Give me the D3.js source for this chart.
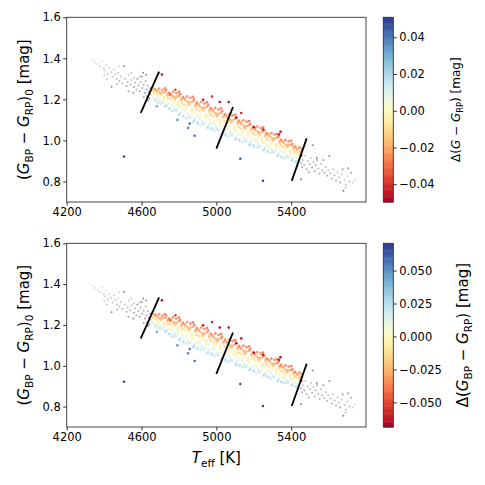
<!DOCTYPE html>
<html lang="en">
<head>
<meta charset="utf-8">
<title>Colour residuals</title>
<script src="https://cdnjs.cloudflare.com/ajax/libs/d3/7.8.5/d3.min.js"></script>
<style>
  body { margin: 0; background: #fff; }
  svg { font-family: "DejaVu Sans", sans-serif; }
</style>
</head>
<body>
<div id="chart"></div>
<script>
// axis ranges and ticks
const teffDomain = [4200, 5800];
const colourDomain = [0.7, 1.6];
const teffTicks = [4200, 4600, 5000, 5400];
const colourTicks = [0.8, 1.0, 1.2, 1.4, 1.6];
const cbarExtentG = [-0.0497, 0.0509];
const cbarExtentBP = [-0.0687, 0.0707];
const cbarTicksG = [-0.04, -0.02, 0.00, 0.02, 0.04];
const cbarTicksBP = [-0.05, -0.025, 0.0, 0.025, 0.05];

// stars inside the selected range (one line = one slice in Teff)
const bandTeff = [
  4657,4671,4663,4675,4654,4668,4660,4673,
  4694,4681,4701,4686,4697,4678,4699,4689,
  4725,4712,4705,4720,4716,4723,4707,4727,
  4732,4746,4738,4750,4729,4743,4735,4748,
  4769,4756,4776,4761,4772,4753,4774,4764,
  4800,4787,4780,4795,4791,4798,4782,4802,
  4807,4821,4813,4825,4804,4818,4810,4823,
  4844,4831,4851,4836,4847,4828,4849,4839,
  4875,4862,4855,4870,4866,4873,4857,4877,
  4882,4896,4888,4900,4879,4893,4885,4898,
  4919,4906,4926,4911,4922,4903,4924,4914,
  4950,4937,4930,4945,4941,4948,4932,4952,
  4957,4971,4963,4975,4954,4968,4960,4973,
  4994,4981,5001,4986,4997,4978,4999,4989,
  5025,5012,5005,5020,5016,5023,5007,5027,
  5032,5046,5038,5050,5029,5043,5035,5048,
  5069,5056,5076,5061,5072,5053,5074,5064,
  5100,5087,5080,5095,5091,5098,5082,5102,
  5107,5121,5113,5125,5104,5118,5110,5123,
  5144,5131,5151,5136,5147,5128,5149,5139,
  5175,5162,5155,5170,5166,5173,5157,5177,
  5182,5196,5188,5200,5179,5193,5185,5198,
  5219,5206,5226,5211,5222,5203,5224,5214,
  5250,5237,5230,5245,5241,5248,5232,5252,
  5257,5271,5263,5275,5254,5268,5260,5273,
  5294,5281,5301,5286,5297,5278,5299,5289,
  5325,5312,5305,5320,5316,5323,5307,5327,
  5332,5346,5338,5350,5329,5343,5335,5348,
  5369,5356,5376,5361,5372,5353,5374,5364,
  5400,5387,5380,5395,5391,5398,5382,5402,
  5407,5421,5413,5425,5404,5418,5410,5423,
  5444,5431,5451,5436,5447,5428,5437,5432
];
const bandColour = [
  1.260,1.249,1.242,1.232,1.225,1.216,1.209,1.197,
  1.252,1.245,1.231,1.225,1.216,1.206,1.193,1.184,
  1.253,1.234,1.228,1.213,1.203,1.196,1.180,1.167,
  1.245,1.229,1.219,1.205,1.194,1.182,1.172,1.154,
  1.237,1.227,1.208,1.200,1.187,1.174,1.156,1.143,
  1.236,1.212,1.204,1.185,1.172,1.164,1.142,1.126,
  1.225,1.206,1.194,1.177,1.164,1.149,1.137,1.116,
  1.214,1.203,1.181,1.172,1.158,1.142,1.123,1.108,
  1.212,1.186,1.177,1.156,1.142,1.133,1.110,1.092,
  1.200,1.179,1.167,1.149,1.135,1.119,1.106,1.083,
  1.187,1.176,1.153,1.144,1.129,1.113,1.092,1.077,
  1.185,1.158,1.149,1.127,1.113,1.104,1.080,1.062,
  1.173,1.152,1.139,1.121,1.107,1.090,1.077,1.055,
  1.158,1.147,1.124,1.115,1.100,1.084,1.063,1.048,
  1.156,1.129,1.120,1.098,1.084,1.075,1.051,1.033,
  1.143,1.122,1.110,1.092,1.078,1.062,1.049,1.026,
  1.128,1.117,1.095,1.085,1.071,1.055,1.035,1.020,
  1.125,1.099,1.090,1.069,1.055,1.046,1.023,1.005,
  1.112,1.092,1.080,1.062,1.049,1.033,1.021,0.999,
  1.098,1.087,1.065,1.056,1.042,1.026,1.007,0.992,
  1.094,1.069,1.061,1.040,1.026,1.018,0.995,0.978,
  1.081,1.062,1.050,1.033,1.020,1.005,0.993,0.972,
  1.067,1.057,1.036,1.027,1.013,0.998,0.979,0.965,
  1.064,1.039,1.032,1.012,0.999,0.990,0.969,0.952,
  1.050,1.032,1.020,1.004,0.991,0.977,0.965,0.945,
  1.035,1.026,1.006,0.997,0.984,0.970,0.952,0.939,
  1.032,1.009,1.002,0.982,0.970,0.962,0.942,0.926,
  1.018,1.000,0.990,0.974,0.963,0.949,0.938,0.919,
  1.002,0.993,0.975,0.967,0.955,0.942,0.926,0.914,
  0.998,0.977,0.970,0.953,0.942,0.935,0.917,0.903,
  0.982,0.967,0.958,0.945,0.934,0.923,0.913,0.897,
  0.967,0.959,0.944,0.938,0.928,0.917,0.903,0.893
];
const bandDeltaG = [
  -0.026,-0.021,-0.014,-0.007,-0.001,0.006,0.012,0.018,
  -0.028,-0.023,-0.013,-0.009,-0.003,0.005,0.013,0.019,
  -0.031,-0.020,-0.017,-0.006,0.001,0.005,0.014,0.021,
  -0.029,-0.024,-0.016,-0.009,-0.002,0.007,0.011,0.020,
  -0.030,-0.025,-0.014,-0.010,-0.002,0.004,0.015,0.019,
  -0.034,-0.020,-0.018,-0.006,0.000,0.004,0.016,0.022,
  -0.031,-0.022,-0.017,-0.008,-0.003,0.006,0.012,0.020,
  -0.028,-0.026,-0.015,-0.009,-0.003,0.005,0.013,0.018,
  -0.033,-0.021,-0.016,-0.007,0.001,0.005,0.015,0.023,
  -0.030,-0.022,-0.017,-0.008,-0.001,0.007,0.012,0.020,
  -0.029,-0.024,-0.014,-0.010,-0.003,0.005,0.014,0.018,
  -0.034,-0.021,-0.017,-0.007,0.000,0.004,0.016,0.021,
  -0.031,-0.022,-0.016,-0.009,-0.002,0.006,0.012,0.019,
  -0.029,-0.025,-0.015,-0.010,-0.004,0.005,0.013,0.018,
  -0.033,-0.021,-0.018,-0.007,0.000,0.004,0.015,0.022,
  -0.030,-0.023,-0.016,-0.008,-0.002,0.006,0.012,0.020,
  -0.029,-0.025,-0.015,-0.010,-0.003,0.004,0.014,0.018,
  -0.035,-0.021,-0.017,-0.006,0.001,0.004,0.015,0.021,
  -0.031,-0.022,-0.015,-0.008,-0.002,0.007,0.012,0.019,
  -0.029,-0.026,-0.015,-0.010,-0.003,0.005,0.014,0.018,
  -0.034,-0.021,-0.017,-0.007,0.000,0.004,0.015,0.021,
  -0.031,-0.022,-0.016,-0.009,-0.002,0.006,0.012,0.020,
  -0.030,-0.025,-0.015,-0.010,-0.003,0.005,0.013,0.018,
  -0.033,-0.021,-0.017,-0.007,0.000,0.004,0.016,0.021,
  -0.032,-0.023,-0.016,-0.008,-0.002,0.006,0.012,0.020,
  -0.030,-0.025,-0.016,-0.010,-0.003,0.005,0.014,0.018,
  -0.034,-0.022,-0.018,-0.007,0.000,0.004,0.015,0.021,
  -0.032,-0.023,-0.017,-0.009,-0.002,0.006,0.012,0.019,
  -0.031,-0.026,-0.016,-0.010,-0.004,0.005,0.013,0.018,
  -0.033,-0.022,-0.017,-0.007,0.000,0.004,0.015,0.020,
  -0.030,-0.023,-0.016,-0.008,-0.002,0.006,0.012,0.018,
  -0.028,-0.024,-0.015,-0.010,-0.003,0.005,0.012,0.016
];
const bandDeltaBP = [
  -0.036,-0.029,-0.020,-0.010,-0.001,0.008,0.017,0.025,
  -0.039,-0.032,-0.018,-0.013,-0.004,0.007,0.018,0.027,
  -0.043,-0.028,-0.024,-0.008,0.001,0.007,0.020,0.029,
  -0.041,-0.034,-0.022,-0.013,-0.003,0.010,0.015,0.028,
  -0.042,-0.035,-0.020,-0.014,-0.003,0.006,0.021,0.027,
  -0.048,-0.028,-0.025,-0.008,0.000,0.006,0.022,0.031,
  -0.043,-0.031,-0.024,-0.011,-0.004,0.008,0.017,0.028,
  -0.039,-0.036,-0.021,-0.013,-0.004,0.007,0.018,0.025,
  -0.046,-0.029,-0.022,-0.010,0.001,0.007,0.021,0.032,
  -0.042,-0.031,-0.024,-0.011,-0.001,0.010,0.017,0.028,
  -0.041,-0.034,-0.020,-0.014,-0.004,0.007,0.020,0.025,
  -0.048,-0.029,-0.024,-0.010,0.000,0.006,0.022,0.029,
  -0.043,-0.031,-0.022,-0.013,-0.003,0.008,0.017,0.027,
  -0.041,-0.035,-0.021,-0.014,-0.006,0.007,0.018,0.025,
  -0.046,-0.029,-0.025,-0.010,0.000,0.006,0.021,0.031,
  -0.042,-0.032,-0.022,-0.011,-0.003,0.008,0.017,0.028,
  -0.041,-0.035,-0.021,-0.014,-0.004,0.006,0.020,0.025,
  -0.049,-0.029,-0.024,-0.008,0.001,0.006,0.021,0.029,
  -0.043,-0.031,-0.021,-0.011,-0.003,0.010,0.017,0.027,
  -0.041,-0.036,-0.021,-0.014,-0.004,0.007,0.020,0.025,
  -0.048,-0.029,-0.024,-0.010,0.000,0.006,0.021,0.029,
  -0.043,-0.031,-0.022,-0.013,-0.003,0.008,0.017,0.028,
  -0.042,-0.035,-0.021,-0.014,-0.004,0.007,0.018,0.025,
  -0.046,-0.029,-0.024,-0.010,0.000,0.006,0.022,0.029,
  -0.045,-0.032,-0.022,-0.011,-0.003,0.008,0.017,0.028,
  -0.042,-0.035,-0.022,-0.014,-0.004,0.007,0.020,0.025,
  -0.048,-0.031,-0.025,-0.010,0.000,0.006,0.021,0.029,
  -0.045,-0.032,-0.024,-0.013,-0.003,0.008,0.017,0.027,
  -0.043,-0.036,-0.022,-0.014,-0.006,0.007,0.018,0.025,
  -0.046,-0.031,-0.024,-0.010,0.000,0.006,0.021,0.028,
  -0.042,-0.032,-0.022,-0.011,-0.003,0.008,0.017,0.025,
  -0.039,-0.034,-0.021,-0.014,-0.004,0.007,0.017,0.022
];

// more selected stars, between the slices above
const fillTeff = [
  4671,4685,4667,4680,4688,4675,
  4711,4697,4704,4691,4699,4708,
  4725,4737,4720,4735,4718,4731,
  4746,4760,4742,4755,4763,4750,
  4786,4772,4779,4766,4774,4783,
  4800,4812,4795,4810,4793,4806,
  4821,4835,4817,4830,4838,4825,
  4861,4847,4854,4841,4849,4858,
  4875,4887,4870,4885,4868,4881,
  4896,4910,4892,4905,4913,4900,
  4936,4922,4929,4916,4924,4933,
  4950,4962,4945,4960,4943,4956,
  4971,4985,4967,4980,4988,4975,
  5011,4997,5004,4991,4999,5008,
  5025,5037,5020,5035,5018,5031,
  5046,5060,5042,5055,5063,5050,
  5086,5072,5079,5066,5074,5083,
  5100,5112,5095,5110,5093,5106,
  5121,5135,5117,5130,5138,5125,
  5161,5147,5154,5141,5149,5158,
  5175,5187,5170,5185,5168,5181,
  5196,5210,5192,5205,5213,5200,
  5236,5222,5229,5216,5224,5233,
  5250,5262,5245,5260,5243,5256,
  5271,5285,5267,5280,5288,5275,
  5311,5297,5304,5291,5299,5308,
  5325,5337,5320,5335,5318,5331,
  5346,5360,5342,5355,5363,5350,
  5386,5372,5379,5366,5374,5383,
  5400,5412,5395,5410,5393,5406,
  5421,5435,5417,5430,5438,5425,
  5455,5450,5448,5441,5436,5433
];
const fillColour = [
  1.250,1.240,1.231,1.216,1.208,1.197,
  1.246,1.234,1.224,1.206,1.194,1.185,
  1.236,1.224,1.205,1.194,1.186,1.169,
  1.232,1.218,1.206,1.184,1.172,1.157,
  1.230,1.214,1.200,1.175,1.159,1.147,
  1.217,1.201,1.176,1.162,1.152,1.130,
  1.211,1.194,1.179,1.153,1.139,1.121,
  1.207,1.188,1.173,1.145,1.126,1.113,
  1.191,1.174,1.147,1.132,1.121,1.097,
  1.185,1.167,1.151,1.123,1.108,1.089,
  1.180,1.161,1.145,1.115,1.096,1.082,
  1.164,1.146,1.118,1.103,1.091,1.066,
  1.157,1.139,1.124,1.095,1.079,1.060,
  1.151,1.132,1.116,1.086,1.067,1.053,
  1.135,1.117,1.089,1.074,1.062,1.037,
  1.128,1.110,1.094,1.066,1.051,1.032,
  1.121,1.102,1.087,1.058,1.039,1.025,
  1.104,1.087,1.060,1.045,1.034,1.010,
  1.097,1.080,1.065,1.038,1.023,1.004,
  1.091,1.072,1.057,1.029,1.010,0.997,
  1.074,1.057,1.031,1.017,1.006,0.982,
  1.067,1.050,1.035,1.009,0.995,0.977,
  1.060,1.042,1.028,1.000,0.982,0.969,
  1.044,1.029,1.003,0.989,0.978,0.956,
  1.036,1.020,1.006,0.980,0.966,0.949,
  1.029,1.012,0.998,0.972,0.955,0.942,
  1.013,0.998,0.974,0.961,0.951,0.929,
  1.004,0.989,0.976,0.952,0.939,0.923,
  0.996,0.980,0.968,0.944,0.928,0.917,
  0.980,0.967,0.945,0.933,0.924,0.905,
  0.970,0.957,0.945,0.925,0.913,0.899,
  0.960,0.947,0.937,0.917,0.904,0.895
];
const fillDeltaG = [
  -0.024,-0.018,-0.011,0.002,0.008,0.016,
  -0.027,-0.020,-0.012,0.001,0.010,0.015,
  -0.025,-0.018,-0.005,0.003,0.007,0.018,
  -0.028,-0.019,-0.012,0.002,0.009,0.017,
  -0.029,-0.021,-0.013,0.000,0.010,0.016,
  -0.026,-0.019,-0.005,0.003,0.008,0.018,
  -0.027,-0.020,-0.011,0.002,0.009,0.017,
  -0.030,-0.020,-0.014,0.001,0.010,0.015,
  -0.025,-0.019,-0.005,0.003,0.007,0.019,
  -0.027,-0.020,-0.012,0.002,0.009,0.017,
  -0.029,-0.021,-0.013,0.001,0.011,0.016,
  -0.026,-0.018,-0.005,0.003,0.008,0.018,
  -0.028,-0.020,-0.012,0.002,0.009,0.017,
  -0.029,-0.021,-0.013,0.000,0.010,0.016,
  -0.027,-0.019,-0.006,0.003,0.008,0.018,
  -0.027,-0.020,-0.012,0.002,0.009,0.017,
  -0.030,-0.021,-0.013,0.001,0.010,0.015,
  -0.026,-0.019,-0.005,0.003,0.008,0.018,
  -0.028,-0.020,-0.012,0.002,0.009,0.017,
  -0.029,-0.021,-0.014,0.001,0.010,0.016,
  -0.026,-0.018,-0.005,0.003,0.008,0.019,
  -0.027,-0.021,-0.012,0.002,0.009,0.017,
  -0.030,-0.021,-0.013,0.000,0.010,0.016,
  -0.027,-0.019,-0.005,0.003,0.007,0.018,
  -0.028,-0.020,-0.012,0.002,0.009,0.017,
  -0.029,-0.021,-0.013,0.001,0.010,0.015,
  -0.026,-0.019,-0.005,0.003,0.008,0.018,
  -0.028,-0.020,-0.012,0.002,0.009,0.017,
  -0.030,-0.021,-0.013,0.001,0.010,0.016,
  -0.026,-0.019,-0.005,0.003,0.008,0.017,
  -0.027,-0.020,-0.012,0.002,0.008,0.016,
  -0.026,-0.019,-0.012,0.001,0.008,0.014
];
const fillDeltaBP = [
  -0.034,-0.025,-0.015,0.003,0.011,0.022,
  -0.038,-0.028,-0.017,0.001,0.014,0.021,
  -0.035,-0.025,-0.007,0.004,0.010,0.025,
  -0.039,-0.027,-0.017,0.003,0.013,0.024,
  -0.041,-0.029,-0.018,0.000,0.014,0.022,
  -0.036,-0.027,-0.007,0.004,0.011,0.025,
  -0.038,-0.028,-0.015,0.003,0.013,0.024,
  -0.042,-0.028,-0.020,0.001,0.014,0.021,
  -0.035,-0.027,-0.007,0.004,0.010,0.027,
  -0.038,-0.028,-0.017,0.003,0.013,0.024,
  -0.041,-0.029,-0.018,0.001,0.015,0.022,
  -0.036,-0.025,-0.007,0.004,0.011,0.025,
  -0.039,-0.028,-0.017,0.003,0.013,0.024,
  -0.041,-0.029,-0.018,0.000,0.014,0.022,
  -0.038,-0.027,-0.008,0.004,0.011,0.025,
  -0.038,-0.028,-0.017,0.003,0.013,0.024,
  -0.042,-0.029,-0.018,0.001,0.014,0.021,
  -0.036,-0.027,-0.007,0.004,0.011,0.025,
  -0.039,-0.028,-0.017,0.003,0.013,0.024,
  -0.041,-0.029,-0.020,0.001,0.014,0.022,
  -0.036,-0.025,-0.007,0.004,0.011,0.027,
  -0.038,-0.029,-0.017,0.003,0.013,0.024,
  -0.042,-0.029,-0.018,0.000,0.014,0.022,
  -0.038,-0.027,-0.007,0.004,0.010,0.025,
  -0.039,-0.028,-0.017,0.003,0.013,0.024,
  -0.041,-0.029,-0.018,0.001,0.014,0.021,
  -0.036,-0.027,-0.007,0.004,0.011,0.025,
  -0.039,-0.028,-0.017,0.003,0.013,0.024,
  -0.042,-0.029,-0.018,0.001,0.014,0.022,
  -0.036,-0.027,-0.007,0.004,0.011,0.024,
  -0.038,-0.028,-0.017,0.003,0.011,0.022,
  -0.036,-0.027,-0.017,0.001,0.011,0.020
];

// strong outliers
const oddTeff =    [4709, 4781, 4929, 4977, 5018, 5066, 5107, 5133, 5201, 5249, 5343, 5335, 5453, 4506, 4884, 4849, 4858, 5128, 5249, 4682, 4792, 4752];
const oddColour =  [1.321, 1.247, 1.198, 1.214, 1.187, 1.187, 1.110, 1.134, 1.064, 1.053, 1.042, 1.029, 0.927, 0.922, 1.023, 1.061, 1.082, 0.911, 0.803, 1.166, 1.100, 1.223];
const oddDeltaG =  [-0.045, -0.036, -0.044, -0.040, -0.046, -0.045, -0.044, -0.042, -0.046, -0.043, -0.046, -0.044, -0.047, 0.048, 0.042, 0.038, 0.040, 0.046, 0.048, 0.030, 0.034, -0.030];
const oddDeltaBP = [-0.063, -0.050, -0.062, -0.058, -0.065, -0.064, -0.062, -0.060, -0.066, -0.061, -0.065, -0.062, -0.066, 0.066, 0.058, 0.054, 0.056, 0.064, 0.067, 0.042, 0.048, -0.042];

// stars outside the selected range (grey)
const greyTeff = [
  4340,4352,4365,4378,4390,4398,4405,4412,4420,4428,4436,4440,4445,4452,4460,4468,4475,4482,4490,4498,
  4506,4512,4520,4526,4532,4540,4546,4556,4560,4566,4572,4578,4584,4590,4596,4600,4604,4609,4612,4618,
  4622,4626,4630,4634,4638,4642,4646,4650,4636,4625,4545,4590,4480,4415,4530,4470,4400,4560,4612,4645,
  5452,5458,5453,5462,5470,5476,5482,5488,5494,5500,5506,5515,5512,5520,5526,5532,5538,5545,5552,5558,
  5565,5572,5578,5585,5592,5598,5604,5610,5618,5625,5632,5640,5648,5655,5662,5670,5675,5679,5685,5692,
  5700,5712,5720,5730,5742,5690,5537,5704
];
const greyColour = [
  1.392,1.381,1.372,1.362,1.385,1.350,1.340,1.368,1.325,1.352,1.333,1.262,1.310,1.345,1.322,1.300,1.330,1.290,1.312,1.278,
  1.363,1.300,1.265,1.285,1.320,1.272,1.295,1.232,1.260,1.282,1.248,1.300,1.268,1.240,1.285,1.312,1.255,1.330,1.270,1.232,
  1.290,1.248,1.215,1.268,1.236,1.205,1.255,1.225,1.195,1.320,1.330,1.310,1.360,1.300,1.240,1.275,1.318,1.305,1.210,1.238,
  0.890,0.870,0.811,0.905,0.880,0.925,0.860,0.900,0.845,0.885,0.915,0.977,0.868,0.895,0.850,0.880,0.905,0.862,0.838,0.885,
  0.855,0.905,0.842,0.870,0.828,0.855,0.924,0.840,0.815,0.860,0.830,0.805,0.845,0.820,0.795,0.835,0.860,0.755,0.808,0.785,
  0.825,0.800,0.843,0.795,0.810,0.770,0.916,0.865
];
const greyShade = [
  0.10,0.15,0.10,0.20,0.10,0.25,0.20,0.15,0.30,0.20,0.25,0.70,0.30,0.20,0.30,0.35,0.25,0.40,0.30,0.45,
  0.75,0.35,0.50,0.40,0.30,0.45,0.35,0.70,0.50,0.40,0.50,0.60,0.45,0.55,0.40,0.75,0.50,0.70,0.45,0.60,
  0.45,0.50,0.55,0.40,0.50,0.60,0.45,0.50,0.60,0.65,0.30,0.35,0.20,0.30,0.60,0.45,0.25,0.35,0.50,0.45,
  0.40,0.50,0.80,0.40,0.45,0.30,0.50,0.35,0.55,0.40,0.30,0.75,0.45,0.35,0.50,0.40,0.55,0.45,0.50,0.35,
  0.40,0.60,0.45,0.30,0.50,0.35,0.70,0.40,0.45,0.30,0.35,0.45,0.30,0.35,0.50,0.25,0.60,0.80,0.30,0.35,
  0.25,0.40,0.50,0.20,0.15,0.30,0.70,0.65
];

// boundary segments
const cutTeff = [[4596, 4694], [5000, 5089], [5403, 5483]];
const cutColour = [[1.134, 1.335], [0.960, 1.163], [0.803, 1.010]];

const width = 485;
const height = 485;
const axLeft = 66.7;
const axRight = 366;
const cbLeft = 383.3;
const cbWidth = 10;
const tickFont = 11.5;

const svg = d3.select("#chart")
  .append("svg")
  .attr("width", width)
  .attr("height", height);

const x = d3.scaleLinear().domain(teffDomain).range([axLeft, axRight]);
const greyScale = d3.scaleLinear().domain([0, 1]).range(["#eeeeee", "#6a6a6a"]);

const selTeff = bandTeff.concat(fillTeff);
const selColour = bandColour.concat(fillColour);
const selDeltaG = bandDeltaG.concat(fillDeltaG);
const selDeltaBP = bandDeltaBP.concat(fillDeltaBP);

// mathtext-ish label built from tspans
function richText(g, parts, size) {
  const t = g.append("text").attr("font-size", size).attr("fill", "#000");
  let shift = 0;
  parts.forEach(p => {
    const target = p.sub ? size * 0.24 : 0;
    const s = t.append("tspan").text(p.t).attr("dy", target - shift);
    shift = target;
    if (p.sub) s.attr("font-size", size * 0.7);
    if (p.it) s.attr("font-style", "italic");
  });
  return t;
}

const panels = [
  {top: 17.3, bottom: 202, delta: selDeltaG, oddDelta: oddDeltaG, extent: cbarExtentG,
   ticks: cbarTicksG, fmt: d3.format(".2f"), cbSize: 12, cbX: 460,
   cbLabel: [{t: "\u0394("}, {t: "G", it: true}, {t: " \u2212 "}, {t: "G", it: true}, {t: "RP", sub: true}, {t: ") [mag]"}]},
  {top: 243.3, bottom: 427, delta: selDeltaBP, oddDelta: oddDeltaBP, extent: cbarExtentBP,
   ticks: cbarTicksBP, fmt: d3.format(".3f"), cbSize: 15, cbX: 468,
   cbLabel: [{t: "\u0394("}, {t: "G", it: true}, {t: "BP", sub: true}, {t: " \u2212 "}, {t: "G", it: true}, {t: "RP", sub: true}, {t: ") [mag]"}]}
];

panels.forEach((p, i) => {
  const y = d3.scaleLinear().domain(colourDomain).range([p.bottom, p.top]);
  const colour = d3.scaleSequential(d3.interpolateRdYlBu).domain(p.extent);
  const g = svg.append("g");

  // grey stars
  g.append("g").selectAll("circle")
    .data(greyTeff.map((t, j) => [t, greyColour[j], greyShade[j]]))
    .enter().append("circle")
      .attr("cx", d => x(d[0]))
      .attr("cy", d => y(d[1]))
      .attr("r", 1.0)
      .attr("fill", d => greyScale(d[2]));

  // selected stars
  g.append("g").selectAll("circle")
    .data(selTeff.map((t, j) => [t, selColour[j], p.delta[j]]))
    .enter().append("circle")
      .attr("cx", d => x(d[0]))
      .attr("cy", d => y(d[1]))
      .attr("r", 1.4)
      .attr("fill", d => colour(d[2]))
      .attr("opacity", 0.7);

  g.append("g").selectAll("circle")
    .data(oddTeff.map((t, j) => [t, oddColour[j], p.oddDelta[j]]))
    .enter().append("circle")
      .attr("cx", d => x(d[0]))
      .attr("cy", d => y(d[1]))
      .attr("r", 1.3)
      .attr("fill", d => colour(d[2]));

  // boundaries
  g.append("g").selectAll("line")
    .data(cutTeff.map((t, j) => [t, cutColour[j]]))
    .enter().append("line")
      .attr("x1", d => x(d[0][0]))
      .attr("y1", d => y(d[1][0]))
      .attr("x2", d => x(d[0][1]))
      .attr("y2", d => y(d[1][1]))
      .attr("stroke", "#000")
      .attr("stroke-width", 1.8);

  // frame
  g.append("rect")
    .attr("x", axLeft).attr("y", p.top)
    .attr("width", axRight - axLeft).attr("height", p.bottom - p.top)
    .attr("fill", "none").attr("stroke", "#333").attr("stroke-width", 0.9);

  const xAxis = g.append("g")
    .attr("transform", "translate(0," + p.bottom + ")")
    .call(d3.axisBottom(x).tickValues(teffTicks).tickFormat(d3.format("d")).tickSize(3.5).tickPadding(2.5));
  const yAxis = g.append("g")
    .attr("transform", "translate(" + axLeft + ",0)")
    .call(d3.axisLeft(y).tickValues(colourTicks).tickFormat(d3.format(".1f")).tickSize(3.5).tickPadding(2.5));
  [xAxis, yAxis].forEach(a => {
    a.select(".domain").remove();
    a.selectAll("line").attr("stroke", "#333");
    a.selectAll("text").attr("font-size", tickFont).attr("fill", "#000").attr("font-family", "DejaVu Sans");
  });

  richText(g, [{t: "("}, {t: "G", it: true}, {t: "BP", sub: true}, {t: " \u2212 "},
      {t: "G", it: true}, {t: "RP", sub: true}, {t: ")"}, {t: "0", sub: true}, {t: " [mag]"}], 15)
    .attr("text-anchor", "middle")
    .attr("transform", "translate(29," + ((p.top + p.bottom) / 2) + ") rotate(-90)");

  // colour bar
  const cy = d3.scaleLinear().domain(p.extent).range([p.bottom, p.top]);
  const steps = d3.range(0, 1, 1 / 160);
  g.append("g").selectAll("rect")
    .data(steps)
    .enter().append("rect")
      .attr("x", cbLeft)
      .attr("width", cbWidth)
      .attr("y", d => cy(p.extent[0] + (d + 1 / 160) * (p.extent[1] - p.extent[0])))
      .attr("height", (p.bottom - p.top) / 160 + 0.5)
      .attr("fill", d => colour(p.extent[0] + (d + 0.5 / 160) * (p.extent[1] - p.extent[0])));
  g.append("rect")
    .attr("x", cbLeft).attr("y", p.top)
    .attr("width", cbWidth).attr("height", p.bottom - p.top)
    .attr("fill", "none").attr("stroke", "#333").attr("stroke-width", 0.9);
  const cAxis = g.append("g")
    .attr("transform", "translate(" + (cbLeft + cbWidth) + ",0)")
    .call(d3.axisRight(cy).tickValues(p.ticks).tickFormat(p.fmt).tickSize(3.5).tickPadding(2.5));
  cAxis.select(".domain").remove();
  cAxis.selectAll("line").attr("stroke", "#333");
  cAxis.selectAll("text").attr("font-size", tickFont).attr("fill", "#000").attr("font-family", "DejaVu Sans");

  richText(g, p.cbLabel, p.cbSize)
    .attr("text-anchor", "middle")
    .attr("transform", "translate(" + p.cbX + "," + ((p.top + p.bottom) / 2) + ") rotate(-90)");
});

// x label only under the lower panel
richText(svg.append("g"), [{t: "T", it: true}, {t: "eff", sub: true}, {t: " [K]"}], 15)
  .attr("text-anchor", "middle")
  .attr("transform", "translate(" + ((axLeft + axRight) / 2) + ",463)");
</script>
</body>
</html>
